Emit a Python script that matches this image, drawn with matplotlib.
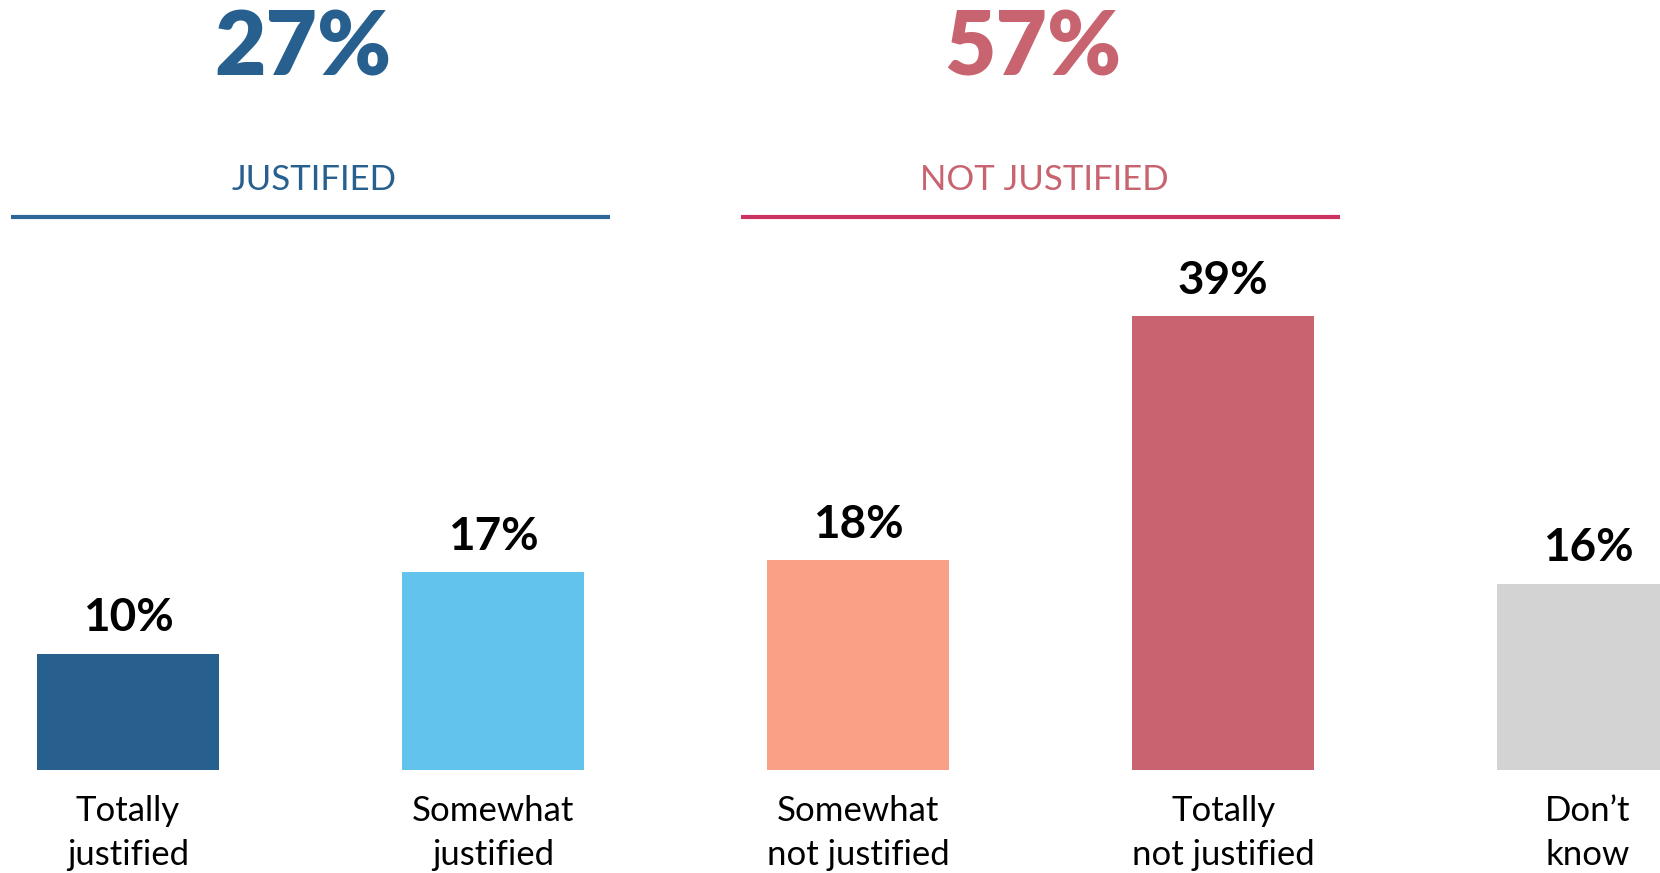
import matplotlib
matplotlib.use("Agg")
import matplotlib.pyplot as plt

# data
categories = ["Totally\njustified", "Somewhat\njustified", "Somewhat\nnot justified",
              "Totally\nnot justified", "Don\u2019t\nknow"]
values = [10, 17, 18, 39, 16]
bar_colors = ["#27608e", "#62c3ec", "#f9a086", "#c8646f", "#d3d3d3"]

group_names = ["JUSTIFIED", "NOT JUSTIFIED"]
group_totals = [27, 57]
group_members = [[0, 1], [2, 3]]
group_colors = ["#27608e", "#c8646f"]
group_line_colors = ["#2e6699", "#cc3360"]

plt.rcParams["font.family"] = ["Lato", "DejaVu Sans"]

fig = plt.figure(figsize=(16.6, 8.73), dpi=100)
ax = fig.add_axes([0, 0, 1, 1])
ax.axis("off")

x = list(range(len(values)))
ax.bar(x, values, width=0.5, color=bar_colors)
ax.set_xlim(-0.3507, 4.197)
ax.set_ylim(-8.84, 66.12)

# value labels above bars
for xi, v in zip(x, values):
    ax.annotate(f"{v}%", (xi, v), xytext=(0, 16), textcoords="offset points",
                ha="center", va="baseline", fontsize=33, fontweight="bold",
                color="black")

# category labels under bars
for xi, lab in zip(x, categories):
    ax.annotate(lab, (xi, 0), xytext=(0, -18), textcoords="offset points",
                ha="center", va="top", fontsize=25, color="black",
                linespacing=1.45)

# group headers
for name, total, members, col, lcol in zip(group_names, group_totals, group_members,
                                           group_colors, group_line_colors):
    cx = sum(members) / len(members)
    ax.text(cx - 0.02, 59.6, f"{total}%", ha="center", va="baseline", fontsize=64,
            fontweight="heavy", color=col)
    ax.text(cx + 0.01, 49.8, name, ha="center", va="baseline", fontsize=25, color=col)
    ax.plot([cx - 0.82, cx + 0.82], [47.5, 47.5], color=lcol, lw=3,
            solid_capstyle="butt")

fig.savefig("out.png", dpi=100)
